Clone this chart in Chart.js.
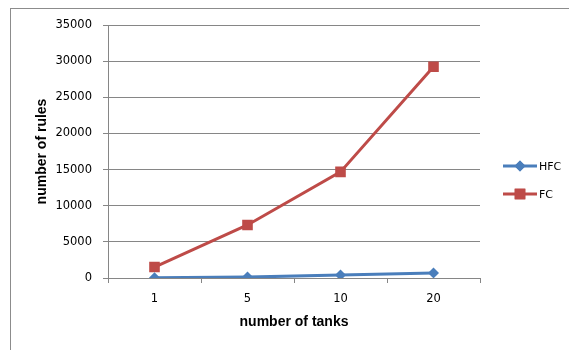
<!DOCTYPE html>
<html>
<head>
<meta charset="utf-8">
<script src="https://cdn.jsdelivr.net/npm/chart.js@4.4.0/dist/chart.umd.min.js"></script>
<style>
  html, body { margin: 0; padding: 0; background: #fff; }
  #wrap { width: 569px; height: 350px; position: relative; }
</style>
</head>
<body>
<div id="wrap"><canvas id="chart" width="569" height="350"></canvas></div>
<script>
const tanks = ["1", "5", "10", "20"];
const hfcRules = [20, 130, 400, 700];
const fcRules = [1520, 7340, 14680, 29220];
const yTicks = [0, 5000, 10000, 15000, 20000, 25000, 30000, 35000];

const TICK_FONT = "'DejaVu Sans', Verdana, sans-serif";
const TITLE_FONT = "'Liberation Sans', Arial, sans-serif";
const GRID = "#868686";

// frame around the whole chart
const framePlugin = {
    id: "frame",
    beforeDraw(chart) {
        const ctx = chart.ctx;
        ctx.save();
        ctx.strokeStyle = "#8c8c8c";
        ctx.lineWidth = 1;
        ctx.strokeRect(10.5, 8.5, 700, 500);
        ctx.restore();
    }
};

// excel-like legend: line with marker through it
const legendPlugin = {
    id: "sideLegend",
    afterDraw(chart) {
        const ctx = chart.ctx;
        ctx.save();
        chart.data.datasets.forEach((ds, i) => {
            const y = 166 + i * 28;
            ctx.strokeStyle = ds.borderColor;
            ctx.lineWidth = 3;
            ctx.beginPath();
            ctx.moveTo(503, y);
            ctx.lineTo(537, y);
            ctx.stroke();
            ctx.fillStyle = ds.backgroundColor;
            Chart.helpers.drawPoint(ctx, {
                pointStyle: ds.pointStyle,
                radius: ds.pointRadius,
                rotation: 0,
                borderWidth: 0
            }, 520, y);
            ctx.fill();
            ctx.fillStyle = "#000";
            ctx.font = "11px " + TICK_FONT;
            ctx.textBaseline = "middle";
            ctx.fillText(ds.label, 539, y + 1);
        });
        ctx.restore();
    }
};

new Chart(document.getElementById("chart"), {
    type: "line",
    data: {
        labels: tanks,
        datasets: [
            {
                label: "HFC",
                data: hfcRules,
                borderColor: "#4a7ebb",
                backgroundColor: "#4a7ebb",
                borderWidth: 3,
                pointStyle: "rectRot",
                pointRadius: 5.5,
                pointBorderWidth: 0,
                tension: 0
            },
            {
                label: "FC",
                data: fcRules,
                borderColor: "#be4b48",
                backgroundColor: "#be4b48",
                borderWidth: 3,
                pointStyle: "rect",
                pointRadius: 7.5,
                pointBorderWidth: 0,
                tension: 0
            }
        ]
    },
    options: {
        responsive: false,
        animation: false,
        layout: { padding: { top: 25, right: 89, left: 0, bottom: 0 } },
        plugins: {
            legend: { display: false },
            tooltip: { enabled: false }
        },
        scales: {
            x: {
                offset: true,
                grid: {
                    offset: true,
                    drawOnChartArea: false,
                    drawTicks: true,
                    tickLength: 5,
                    color: GRID
                },
                border: { color: GRID },
                ticks: {
                    color: "#000",
                    font: { family: TICK_FONT, size: 11.5 },
                    padding: 9
                },
                title: {
                    display: true,
                    text: "number of tanks",
                    color: "#000",
                    font: { family: TITLE_FONT, size: 14, weight: "bold" },
                    padding: { top: 19, bottom: 19 }
                },
                afterFit: scale => { scale.height = 72; }
            },
            y: {
                min: 0,
                max: 35000,
                afterBuildTicks: scale => { scale.ticks = yTicks.map(v => ({ value: v })); },
                grid: {
                    color: GRID,
                    tickLength: 5
                },
                border: { color: GRID },
                ticks: {
                    color: "#000",
                    font: { family: TICK_FONT, size: 11.5 },
                    padding: 11,
                    callback: v => String(v)
                },
                title: {
                    display: true,
                    text: "number of rules",
                    color: "#000",
                    font: { family: TITLE_FONT, size: 14, weight: "bold" },
                    padding: { top: 34, bottom: 34 }
                },
                afterFit: scale => { scale.width = 108; }
            }
        }
    },
    plugins: [framePlugin, legendPlugin]
});
</script>
</body>
</html>
